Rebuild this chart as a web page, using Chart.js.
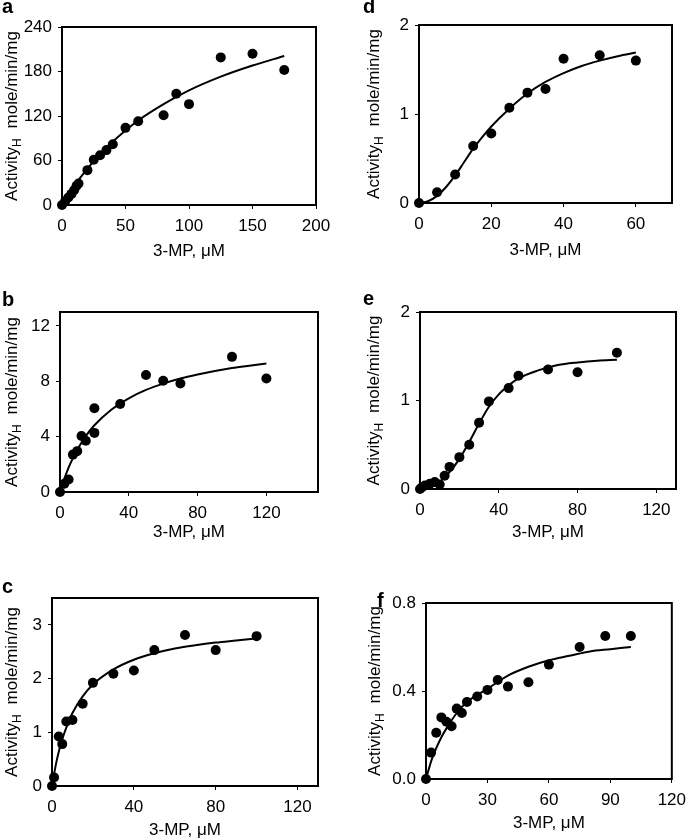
<!DOCTYPE html>
<html lang="en">
<head>
<meta charset="UTF-8">
<title>3-MP kinetics, panels a-f</title>
<script src="https://cdn.jsdelivr.net/npm/chart.js"></script>
<style>
    * { margin: 0; padding: 0; box-sizing: border-box; }
    body { background: #fff; width: 693px; height: 838px; position: relative; overflow: hidden; }
    canvas { position: absolute; }
</style>
</head>
<body>
<script>
// ---- panel a ----
const aConc = [0, 2.5, 5, 7.5, 9.5, 11.5, 13, 20, 25, 30, 35, 40, 50, 60, 80, 90, 100, 125, 150, 175];
const aAct = [0, 5, 10, 15, 20, 26, 29, 47, 61, 67, 74, 82, 104, 113, 121, 150, 136, 199, 204, 182];
const aFitConc = [0, 10, 20, 30, 40, 50, 60, 80, 100, 125, 150, 175];
const aFitAct = [0, 26.5, 49, 68.5, 85.5, 100.5, 114, 136, 154.5, 173, 188, 201];
const aXTicks = [0, 50, 100, 150, 200];
const aYTicks = [0, 60, 120, 180, 240];

// ---- panel b ----
const bConc = [0, 2.5, 5, 7.5, 10, 12.5, 15, 20, 20, 35, 50, 60, 70, 100, 120];
const bAct = [0, 0.6, 0.9, 2.7, 2.95, 4.05, 3.7, 6.05, 4.27, 6.35, 8.45, 8.03, 7.84, 9.76, 8.2];
const bFitConc = [0, 2.5, 5, 7.5, 10, 15, 20, 30, 40, 50, 60, 70, 80, 90, 100, 110, 120];
const bFitAct = [0, 0.95, 1.76, 2.45, 3.05, 4.04, 4.82, 5.96, 6.77, 7.37, 7.83, 8.2, 8.49, 8.74, 8.95, 9.12, 9.28];
const bXTicks = [0, 40, 80, 120];
const bYTicks = [0, 4, 8, 12];

// ---- panel c ----
const cConc = [0, 1, 3.3, 5, 7, 10, 15, 20, 30, 40, 50, 65, 80, 100];
const cAct = [0, 0.16, 0.92, 0.78, 1.2, 1.23, 1.53, 1.92, 2.09, 2.15, 2.53, 2.81, 2.53, 2.79];
const cFitConc = [0, 1, 2.5, 5, 7.5, 10, 15, 20, 30, 40, 50, 60, 70, 80, 90, 100];
const cFitAct = [0, 0.22, 0.51, 0.87, 1.14, 1.36, 1.67, 1.89, 2.17, 2.35, 2.47, 2.56, 2.62, 2.67, 2.71, 2.75];
const cXTicks = [0, 40, 80, 120];
const cYTicks = [0, 1, 2, 3];

// ---- panel d ----
const dConc = [0, 5, 10, 15, 20, 25, 30, 35, 40, 50, 60];
const dAct = [0, 0.12, 0.32, 0.64, 0.78, 1.07, 1.24, 1.28, 1.62, 1.66, 1.60];
const dFitConc = [0, 2.5, 5, 7.5, 10, 12.5, 15, 17.5, 20, 25, 30, 35, 40, 45, 50, 55, 60];
const dFitAct = [0, 0.02, 0.08, 0.18, 0.31, 0.46, 0.61, 0.74, 0.86, 1.06, 1.23, 1.36, 1.46, 1.54, 1.60, 1.65, 1.69];
const dXTicks = [0, 20, 40, 60];
const dYTicks = [0, 1, 2];

// ---- panel e ----
const eConc = [0, 1, 2.5, 5, 7.5, 10, 12.5, 15, 20, 25, 30, 35, 45, 50, 65, 80, 100];
const eAct = [0, 0.02, 0.04, 0.06, 0.08, 0.05, 0.15, 0.25, 0.36, 0.50, 0.75, 0.99, 1.14, 1.28, 1.35, 1.32, 1.54];
const eFitConc = [0, 5, 10, 15, 20, 25, 30, 35, 40, 45, 50, 60, 70, 80, 90, 100];
const eFitAct = [0, 0.02, 0.08, 0.19, 0.34, 0.53, 0.74, 0.93, 1.07, 1.17, 1.25, 1.34, 1.40, 1.43, 1.45, 1.46];
const eXTicks = [0, 40, 80, 120];
const eYTicks = [0, 1, 2];

// ---- panel f ----
const fConc = [0, 2.5, 5, 7.5, 10, 12.5, 15, 17.5, 20, 25, 30, 35, 40, 50, 60, 75, 87.5, 100];
const fAct = [0, 0.12, 0.21, 0.28, 0.26, 0.24, 0.32, 0.30, 0.35, 0.375, 0.405, 0.45, 0.42, 0.44, 0.52, 0.60, 0.65, 0.65];
const fFitConc = [0, 2.5, 5, 7.5, 10, 15, 20, 30, 40, 50, 60, 70, 80, 90, 100];
const fFitAct = [0, 0.08, 0.14, 0.19, 0.23, 0.30, 0.35, 0.41, 0.47, 0.51, 0.54, 0.56, 0.58, 0.59, 0.60];
const fXTicks = [0, 30, 60, 90, 120];
const fYTicks = [0, 0.4, 0.8];

const xTitle = '3-MP, \u03bcM';
const yMain = 'Activity';
const ySub = 'H';
const yUnit = 'mole/min/mg';

const FONT = '"Liberation Sans", Arial, sans-serif';
Chart.defaults.font.family = FONT;
Chart.defaults.font.size = 17;
Chart.defaults.color = '#000';

// panel box and plot area in page pixels: [left, top, right, bottom]
const panels = [
    { letter: 'a', box: [0, 0, 346, 280], plot: [62, 27, 316, 205], xMax: 200, yMax: 240, dec: 0,
      conc: aConc, act: aAct, fitConc: aFitConc, fitAct: aFitAct, xTicks: aXTicks, yTicks: aYTicks,
      letterXY: [2, 13], yTitleX: 11, xTitleY: 251.5 },
    { letter: 'd', box: [346, 0, 693, 280], plot: [419, 25, 672, 203], xMax: 70, yMax: 2, dec: 0,
      conc: dConc, act: dAct, fitConc: dFitConc, fitAct: dFitAct, xTicks: dXTicks, yTicks: dYTicks,
      letterXY: [363, 13], yTitleX: 373, xTitleY: 250.5 },
    { letter: 'b', box: [0, 280, 346, 560], plot: [60, 312, 318, 492], xMax: 150, yMax: 13, dec: 0,
      conc: bConc, act: bAct, fitConc: bFitConc, fitAct: bFitAct, xTicks: bXTicks, yTicks: bYTicks,
      letterXY: [2, 306], yTitleX: 11, xTitleY: 532.5 },
    { letter: 'e', box: [346, 280, 693, 560], plot: [420, 312, 676, 489], xMax: 130, yMax: 2, dec: 0,
      conc: eConc, act: eAct, fitConc: eFitConc, fitAct: eFitAct, xTicks: eXTicks, yTicks: eYTicks,
      letterXY: [363, 305], yTitleX: 373, xTitleY: 532.5 },
    { letter: 'c', box: [0, 560, 346, 838], plot: [52, 598, 318, 786], xMax: 130, yMax: 3.5, dec: 0,
      conc: cConc, act: cAct, fitConc: cFitConc, fitAct: cFitAct, xTicks: cXTicks, yTicks: cYTicks,
      letterXY: [2, 592.5], yTitleX: 11, xTitleY: 830 },
    { letter: 'f', box: [346, 560, 693, 838], plot: [426, 603, 678, 779], xMax: 120, yMax: 0.8, dec: 1,
      conc: fConc, act: fAct, fitConc: fFitConc, fitAct: fFitAct, xTicks: fXTicks, yTicks: fYTicks,
      letterXY: [377, 606.5], yTitleX: 374, xTitleY: 823 }
];

// frame, panel letter and axis titles (y title has a subscript)
const panelDecor = {
    id: 'panelDecor',
    afterDraw(chart, args, o) {
        const ctx = chart.ctx, a = chart.chartArea;
        ctx.save();
        ctx.strokeStyle = '#000';
        ctx.lineWidth = 2;
        ctx.strokeRect(a.left, a.top, a.right - a.left, a.bottom - a.top);

        ctx.fillStyle = '#000';
        ctx.font = 'bold 20px ' + FONT;
        ctx.textAlign = 'left';
        ctx.textBaseline = 'alphabetic';
        ctx.fillText(o.letter, o.letterX, o.letterY);

        ctx.font = '17px ' + FONT;
        ctx.textAlign = 'center';
        ctx.textBaseline = 'middle';
        ctx.fillText(xTitle, (a.left + a.right) / 2, o.xTitleY);

        ctx.translate(o.yTitleX, (a.top + a.bottom) / 2);
        ctx.rotate(-Math.PI / 2);
        ctx.textAlign = 'left';
        ctx.textBaseline = 'alphabetic';
        ctx.font = '17px ' + FONT;
        const w1 = ctx.measureText(yMain).width;
        const w3 = ctx.measureText(yUnit).width;
        ctx.font = '12px ' + FONT;
        const w2 = ctx.measureText(ySub).width;
        const gap = 10;
        let x = -(w1 + w2 + gap + w3) / 2;
        ctx.font = '17px ' + FONT;
        ctx.fillText(yMain, x, 6);
        x += w1;
        ctx.font = '12px ' + FONT;
        ctx.fillText(ySub, x, 10);
        x += w2 + gap;
        ctx.font = '17px ' + FONT;
        ctx.fillText(yUnit, x, 6);
        ctx.restore();
    }
};

panels.forEach(p => {
    const [bx, by, br, bb] = p.box;
    const [L, T, R, B] = p.plot;
    const canvas = document.createElement('canvas');
    canvas.width = br - bx;
    canvas.height = bb - by;
    canvas.style.left = bx + 'px';
    canvas.style.top = by + 'px';
    document.body.appendChild(canvas);

    new Chart(canvas.getContext('2d'), {
        type: 'scatter',
        data: {
            datasets: [
                {
                    data: p.fitConc.map((x, i) => ({ x: x, y: p.fitAct[i] })),
                    showLine: true,
                    borderColor: '#000',
                    borderWidth: 2,
                    pointRadius: 0,
                    cubicInterpolationMode: 'monotone',
                    fill: false
                },
                {
                    data: p.conc.map((x, i) => ({ x: x, y: p.act[i] })),
                    showLine: false,
                    pointRadius: 5,
                    pointBackgroundColor: '#000',
                    pointBorderColor: '#000',
                    pointBorderWidth: 0,
                    clip: false
                }
            ]
        },
        options: {
            responsive: false,
            animation: false,
            devicePixelRatio: 1,
            layout: { padding: { left: 0, top: T - by, right: br - R, bottom: 0 } },
            plugins: {
                legend: { display: false },
                tooltip: { enabled: false },
                panelDecor: {
                    letter: p.letter,
                    letterX: p.letterXY[0] - bx,
                    letterY: p.letterXY[1] - by,
                    yTitleX: p.yTitleX - bx,
                    xTitleY: p.xTitleY - by
                }
            },
            scales: {
                x: {
                    type: 'linear',
                    min: 0,
                    max: p.xMax,
                    border: { display: false },
                    grid: { display: true, drawOnChartArea: false, drawTicks: true, tickLength: 4, color: '#000', lineWidth: 1 },
                    ticks: { padding: 7, maxRotation: 0, autoSkip: false, callback: v => String(v) },
                    afterBuildTicks: s => { s.ticks = p.xTicks.map(v => ({ value: v })); },
                    afterFit: s => { s.height = bb - B; }
                },
                y: {
                    type: 'linear',
                    min: 0,
                    max: p.yMax,
                    border: { display: false },
                    grid: { display: true, drawOnChartArea: false, drawTicks: true, tickLength: 4, color: '#000', lineWidth: 1 },
                    ticks: { padding: 6, autoSkip: false, callback: v => v.toFixed(p.dec) },
                    afterBuildTicks: s => { s.ticks = p.yTicks.map(v => ({ value: v })); },
                    afterFit: s => { s.width = L - bx; }
                }
            }
        },
        plugins: [panelDecor]
    });
});
</script>
</body>
</html>
